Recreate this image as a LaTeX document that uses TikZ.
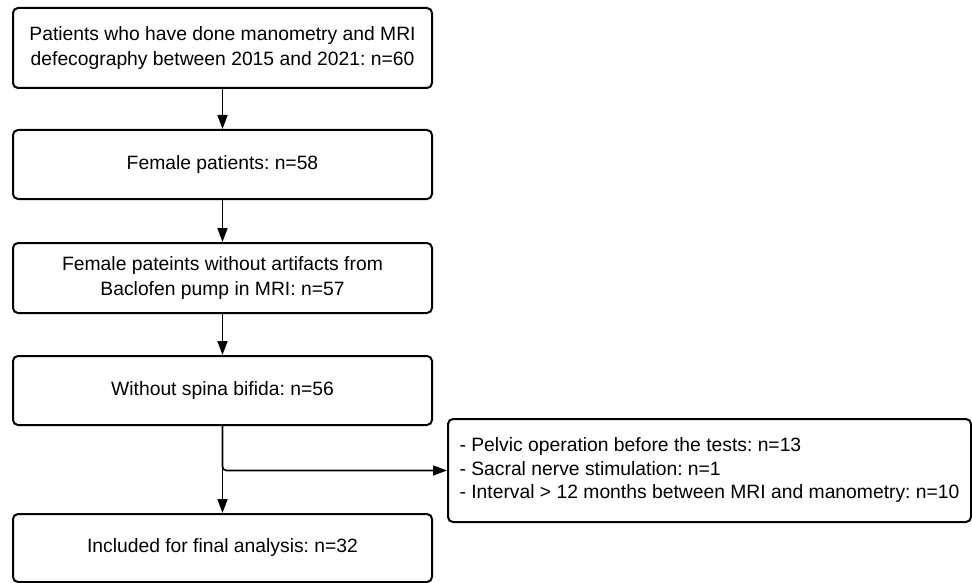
\documentclass[tikz,border=0pt]{standalone}
\usepackage{fontspec}
\setmainfont{Liberation Sans}
\usepackage{tikz}
\usetikzlibrary{arrows.meta,positioning}
\frenchspacing

\begin{document}
\begin{tikzpicture}[x=1pt, y=-1pt,
  every node/.style={font=\fontsize{19.3}{24.5}\selectfont},
  box/.style={rectangle, draw, line width=2pt, rounded corners=5pt, minimum width=419pt, align=center, inner sep=0pt},
  flow/.style={-{Triangle[length=14pt,width=10pt]}, line width=1.6pt}]

\useasboundingbox (0,0) rectangle (972,583);

% Main column
\node (all) at (222.5,48) [box, minimum height=80pt] {Patients who have done manometry and MRI\\defecography between 2015 and 2021: n=60};
\node (female) at (222.5,164.5) [box, minimum height=69pt] {Female patients: n=58};
\node (noartif) at (222.5,278) [box, minimum height=70pt] {Female pateints without artifacts from\\Baclofen pump in MRI: n=57};
\node (nospina) at (222.5,390.5) [box, minimum height=69pt] {Without spina bifida: n=56};
\node (final) at (222.5,548) [box, minimum height=68pt] {Included for final analysis: n=32};

% Exclusions
\node (excl) at (709.5,470.5) [box, minimum width=523pt, minimum height=103pt, align=left, font=\fontsize{19.3}{23.5}\selectfont] {- Pelvic operation before the tests: n=13\\- Sacral nerve stimulation: n=1\\- Interval > 12 months between MRI and manometry: n=10\hspace{2pt}};

\draw[flow] (all) -- (female);
\draw[flow] (female) -- (noartif);
\draw[flow] (noartif) -- (nospina);
\draw[flow] (nospina) -- (final);
\draw[flow, rounded corners=4pt] (nospina.south) |- (excl.west);

\end{tikzpicture}
\end{document}
